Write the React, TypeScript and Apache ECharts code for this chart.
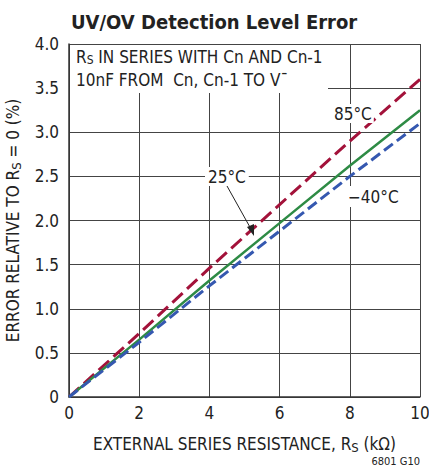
import React, { useEffect, useRef } from "react";
import * as echarts from "echarts";

const xValues = [0, 2, 4, 6, 8, 10];
const err85 = [0, 0.72, 1.46, 2.18, 2.9, 3.6];
const err25 = [0, 0.65, 1.32, 1.97, 2.62, 3.25];
const errM40 = [0, 0.62, 1.26, 1.88, 2.5, 3.1];

const FONT = "'Liberation Sans Narrow', 'DejaVu Sans Condensed', 'Arial Narrow', sans-serif";
const TXT = "#222";

export default function App() {
  const ref = useRef<HTMLDivElement>(null);
  useEffect(() => {
    if (!ref.current) return;
    const chart = echarts.init(ref.current, undefined, { renderer: "svg" });
    const pair = (ys: number[]) => xValues.map((x, i) => [x, ys[i]]);
    chart.setOption({
      animation: false,
      backgroundColor: "#fff",
      textStyle: { fontFamily: FONT },
      title: {
        text: "UV/OV Detection Level Error",
        left: 66,
        top: 7,
        textStyle: { fontFamily: FONT, fontWeight: "bold", fontSize: 20, color: "#222" },
      },
      grid: { left: 69, right: 9, top: 44, bottom: 75, containLabel: false, outerBoundsMode: "none" },
      xAxis: {
        type: "value",
        min: 0,
        max: 10,
        interval: 2,
        name: "EXTERNAL SERIES RESISTANCE, R{s|S} (kΩ)",
        nameLocation: "middle",
        nameGap: 36,
        nameTextStyle: {
          fontFamily: FONT,
          fontSize: 17,
          color: TXT,
          rich: { s: { fontFamily: FONT, fontSize: 13, color: TXT, padding: [8, 0, 0, 0] } },
        },
        axisLine: { show: true, lineStyle: { color: "#333", width: 1.5 } },
        axisTick: { show: false },
        axisLabel: { fontFamily: FONT, fontSize: 17, color: TXT, margin: 7 },
        splitLine: { show: true, lineStyle: { color: "#444", width: 1 } },
      },
      yAxis: {
        type: "value",
        min: 0,
        max: 4,
        interval: 0.5,
        name: "ERROR RELATIVE TO R{s|S} = 0 (%)",
        nameLocation: "middle",
        nameGap: 46,
        nameTextStyle: {
          fontFamily: FONT,
          fontSize: 17,
          color: TXT,
          rich: { s: { fontFamily: FONT, fontSize: 13, color: TXT, padding: [8, 0, 0, 0] } },
        },
        axisLine: { show: true, lineStyle: { color: "#333", width: 1.5 } },
        axisTick: { show: false },
        axisLabel: {
          fontFamily: FONT,
          fontSize: 17,
          color: TXT,
          margin: 10,
          formatter: (v: number) => (v === 0 ? "0" : v.toFixed(1)),
        },
        splitLine: { show: true, lineStyle: { color: "#444", width: 1 } },
      },
      series: [
        {
          name: "85°C",
          type: "line",
          data: pair(err85),
          showSymbol: false,
          lineStyle: { color: "#a3123a", width: 3, type: [14, 6] },
          z: 3,
        },
        {
          name: "25°C",
          type: "line",
          data: pair(err25),
          showSymbol: false,
          lineStyle: { color: "#2e8b45", width: 2.5, type: "solid" },
          z: 3,
        },
        {
          name: "-40°C",
          type: "line",
          data: pair(errM40),
          showSymbol: false,
          lineStyle: { color: "#3558b0", width: 3, type: [11, 5] },
          z: 3,
        },
      ],
      graphic: [
        {
          type: "rect",
          shape: { x: 70, y: 45, width: 258, height: 48 },
          style: { fill: "#fff" },
          z: 10,
        },
        {
          type: "text",
          x: 76,
          y: 48,
          z: 11,
          style: {
            text: "R{s|S} IN SERIES WITH Cn AND Cn-1",
            rich: { s: { fontFamily: FONT, fontSize: 12, fill: TXT, padding: [6, 0, 0, 0] } },
            fontFamily: FONT,
            fontSize: 17,
            fill: TXT,
          },
        },
        {
          type: "text",
          x: 76,
          y: 71,
          z: 11,
          style: {
            text: "10nF FROM  Cn, Cn-1 TO V¯",
            fontFamily: FONT,
            fontSize: 17,
            fill: TXT,
          },
        },
        {
          type: "text",
          x: 332,
          y: 104,
          z: 11,
          style: {
            text: "85°C",
            fontFamily: FONT,
            fontSize: 17,
            fill: TXT,
            backgroundColor: "#fff",
            padding: [1, 2],
          },
        },
        {
          type: "text",
          x: 205,
          y: 167,
          z: 11,
          style: {
            text: "25°C",
            fontFamily: FONT,
            fontSize: 17,
            fill: TXT,
            backgroundColor: "#fff",
            padding: [1, 3],
          },
        },
        {
          type: "text",
          x: 346,
          y: 186,
          z: 11,
          style: {
            text: "−40°C",
            fontFamily: FONT,
            fontSize: 17,
            fill: TXT,
            backgroundColor: "#fff",
            padding: [2, 2],
          },
        },
        {
          type: "line",
          z: 11,
          shape: { x1: 227, y1: 186, x2: 251, y2: 229 },
          style: { stroke: "#222", lineWidth: 1 },
        },
        {
          type: "polygon",
          z: 11,
          shape: { points: [[254, 236], [247, 227], [254, 224]] },
          style: { fill: "#222" },
        },
        {
          type: "text",
          right: 9,
          top: 456,
          z: 11,
          style: { text: "6801 G10", fontFamily: FONT, fontSize: 11, fill: TXT },
        },
      ],
    });
    return () => chart.dispose();
  }, []);
  return <div ref={ref} style={{ width: 429, height: 472, position: "fixed", left: 0, top: 0 }} />;
}
